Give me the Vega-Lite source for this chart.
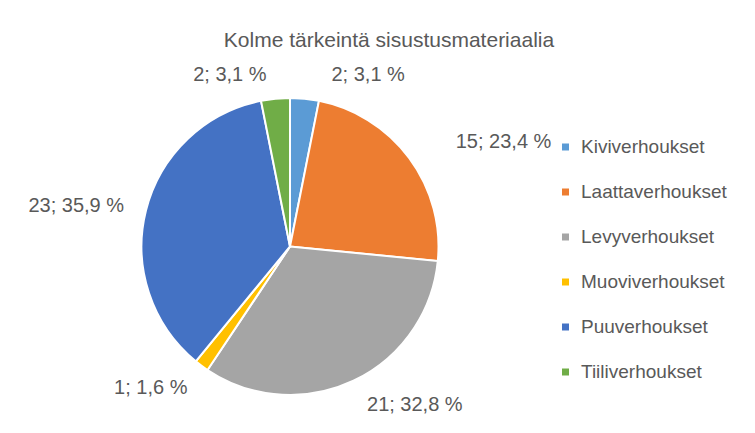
{
  "$schema": "https://vega.github.io/schema/vega-lite/v6.json",
  "width": 297,
  "height": 297,
  "autosize": {"type": "none"},
  "padding": {"left": 141.5, "top": 98, "right": 316.5, "bottom": 38},
  "background": "white",
  "config": {"font": "Liberation Sans", "view": {"stroke": null}},
  "title": {
    "text": "Kolme tärkeintä sisustusmateriaalia",
    "fontSize": 21,
    "fontWeight": "normal",
    "color": "#595959",
    "anchor": "middle",
    "frame": "group",
    "dx": 99,
    "offset": 11
  },
  "data": {
    "values": [
      {"category": "Kiviverhoukset", "value": 2},
      {"category": "Laattaverhoukset", "value": 15},
      {"category": "Levyverhoukset", "value": 21},
      {"category": "Muoviverhoukset", "value": 1},
      {"category": "Puuverhoukset", "value": 23},
      {"category": "Tiiliverhoukset", "value": 2}
    ]
  },
  "transform": [
    {"joinaggregate": [{"op": "sum", "field": "value", "as": "total"}]},
    {"calculate": "datum.value + '; ' + replace(format(datum.value / datum.total * 100, '.1f'), '.', ',') + ' %'", "as": "label"}
  ],
  "encoding": {
    "theta": {"field": "value", "type": "quantitative", "stack": true},
    "order": {"field": "category", "type": "ordinal", "sort": "ascending"}
  },
  "layer": [
    {
      "mark": {"type": "arc", "outerRadius": 148.5, "stroke": "white", "strokeWidth": 2},
      "encoding": {
        "color": {
          "field": "category",
          "type": "nominal",
          "scale": {
            "domain": ["Kiviverhoukset", "Laattaverhoukset", "Levyverhoukset", "Muoviverhoukset", "Puuverhoukset", "Tiiliverhoukset"],
            "range": ["#5B9BD5", "#ED7D31", "#A5A5A5", "#FFC000", "#4472C4", "#70AD47"]
          },
          "legend": {
            "orient": "none",
            "legendX": 414.5,
            "legendY": 39.5,
            "title": null,
            "symbolType": "square",
            "symbolSize": 49,
            "symbolStrokeWidth": 0,
            "labelFontSize": 19,
            "labelColor": "#595959",
            "labelOffset": 6,
            "rowPadding": 25,
            "padding": 0
          }
        }
      }
    },
    {
      "mark": {"type": "text", "radius": 175, "dx": 61, "dy": 3, "fontSize": 20, "color": "#595959", "align": "center", "baseline": "middle"},
      "encoding": {"detail": {"field": "category"}, "text": {"condition": {"test": "datum.category === 'Kiviverhoukset'", "field": "label", "type": "nominal"}, "value": ""}}
    },
    {
      "mark": {"type": "text", "radius": 175, "dx": 73, "dy": 0, "fontSize": 20, "color": "#595959", "align": "center", "baseline": "middle"},
      "encoding": {"detail": {"field": "category"}, "text": {"condition": {"test": "datum.category === 'Laattaverhoukset'", "field": "label", "type": "nominal"}, "value": ""}}
    },
    {
      "mark": {"type": "text", "radius": 175, "dx": 50, "dy": 0, "fontSize": 20, "color": "#595959", "align": "center", "baseline": "middle"},
      "encoding": {"detail": {"field": "category"}, "text": {"condition": {"test": "datum.category === 'Levyverhoukset'", "field": "label", "type": "nominal"}, "value": ""}}
    },
    {
      "mark": {"type": "text", "radius": 175, "dx": -35, "dy": 1, "fontSize": 20, "color": "#595959", "align": "center", "baseline": "middle"},
      "encoding": {"detail": {"field": "category"}, "text": {"condition": {"test": "datum.category === 'Muoviverhoukset'", "field": "label", "type": "nominal"}, "value": ""}}
    },
    {
      "mark": {"type": "text", "radius": 175, "dx": -44, "dy": 2, "fontSize": 20, "color": "#595959", "align": "center", "baseline": "middle"},
      "encoding": {"detail": {"field": "category"}, "text": {"condition": {"test": "datum.category === 'Puuverhoukset'", "field": "label", "type": "nominal"}, "value": ""}}
    },
    {
      "mark": {"type": "text", "radius": 175, "dx": -43, "dy": 3, "fontSize": 20, "color": "#595959", "align": "center", "baseline": "middle"},
      "encoding": {"detail": {"field": "category"}, "text": {"condition": {"test": "datum.category === 'Tiiliverhoukset'", "field": "label", "type": "nominal"}, "value": ""}}
    }
  ]
}
